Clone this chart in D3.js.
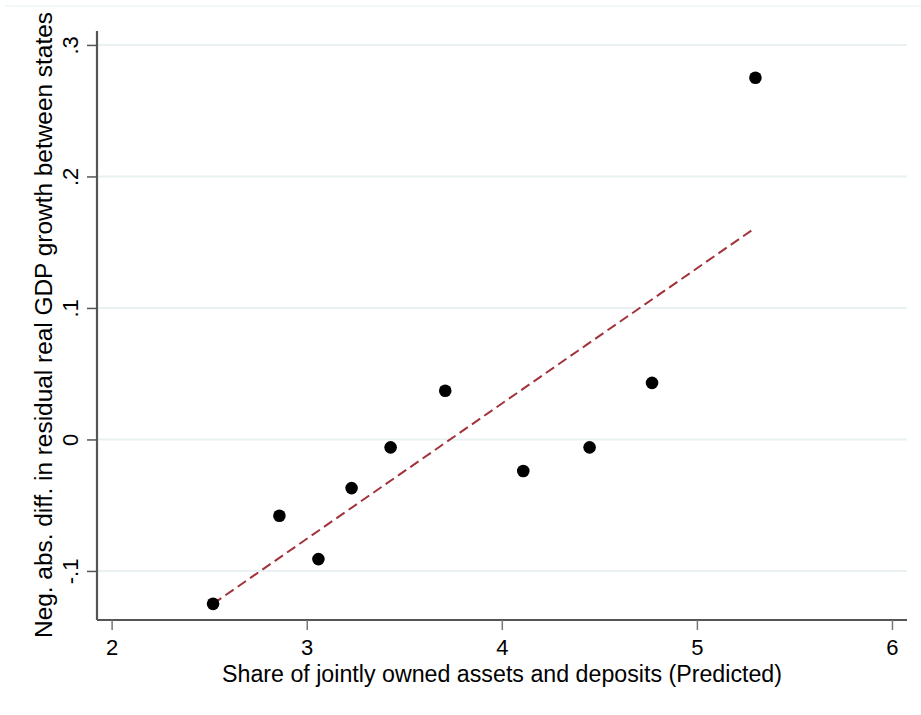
<!DOCTYPE html>
<html>
<head>
<meta charset="utf-8">
<script src="https://cdn.jsdelivr.net/npm/d3@7"></script>
<style>
  body { margin: 0; background: #fff; }
  text { font-family: "Liberation Sans", Arial, sans-serif; fill: #000; }
</style>
</head>
<body>
<div id="chart"></div>
<script>
// Data
var xValues = [2.52, 2.86, 3.06, 3.23, 3.43, 3.71, 4.11, 4.45, 4.77, 5.30];
var yValues = [-0.125, -0.058, -0.091, -0.037, -0.006, 0.037, -0.024, -0.006, 0.043, 0.275];

// fitted line end points
var fitX = [2.52, 5.30];
var fitY = [-0.125, 0.161];

var xTicks = [2, 3, 4, 5, 6];
var yTicks = [-0.1, 0, 0.1, 0.2, 0.3];
var yTickLabels = ["-.1", "0", ".1", ".2", ".3"];

var svgWidth = 921;
var svgHeight = 715;

var margin = { top: 31, right: 14, bottom: 95, left: 97 };
var width = svgWidth - margin.left - margin.right;
var height = svgHeight - margin.top - margin.bottom;

var svg = d3.select("#chart")
    .append("svg")
    .attr("width", svgWidth)
    .attr("height", svgHeight);

// faint outer frame line at the top
svg.append("line")
    .attr("x1", 5).attr("x2", 921)
    .attr("y1", 6).attr("y2", 6)
    .attr("stroke", "#eef4f5")
    .attr("stroke-width", 1.5);

var chartGroup = svg.append("g")
    .attr("transform", `translate(${margin.left}, ${margin.top})`);

var xScale = d3.scaleLinear()
    .domain([1.925, 6.077])
    .range([0, width]);

var yScale = d3.scaleLinear()
    .domain([-0.1373, 0.3106])
    .range([height, 0]);

// gridlines
chartGroup.selectAll(".grid")
    .data(yTicks)
    .enter()
    .append("line")
    .attr("x1", 0)
    .attr("x2", width)
    .attr("y1", d => yScale(d))
    .attr("y2", d => yScale(d))
    .attr("stroke", "#eaf1f2")
    .attr("stroke-width", 2);

// axes
var bottomAxis = d3.axisBottom(xScale)
    .tickValues(xTicks)
    .tickSize(10)
    .tickFormat(d3.format("d"));

var leftAxis = d3.axisLeft(yScale)
    .tickValues(yTicks)
    .tickSize(10)
    .tickFormat((d, i) => yTickLabels[i]);

var xAxis = chartGroup.append("g")
    .attr("transform", `translate(0, ${height})`)
    .call(bottomAxis);

xAxis.select(".domain")
    .attr("d", `M0,0H${width}`)
    .attr("stroke", "#555")
    .attr("stroke-width", 2.2);
xAxis.selectAll(".tick line").attr("stroke", "#777").attr("stroke-width", 1.5);
xAxis.selectAll(".tick text")
    .style("font-size", "22px")
    .attr("y", 35)
    .attr("dy", null);

var yAxis = chartGroup.append("g")
    .call(leftAxis);

yAxis.select(".domain")
    .attr("d", `M0,0V${height}`)
    .attr("stroke", "#555")
    .attr("stroke-width", 2.2);
yAxis.selectAll(".tick line").attr("stroke", "#555").attr("stroke-width", 1.5);
yAxis.selectAll(".tick text")
    .style("font-size", "22px")
    .attr("x", null)
    .attr("dy", null)
    .attr("y", 0)
    .attr("text-anchor", "middle")
    .attr("transform", "translate(-19, 0) rotate(-90)");

// fitted line
chartGroup.append("line")
    .attr("x1", xScale(fitX[0]))
    .attr("y1", yScale(fitY[0]))
    .attr("x2", xScale(fitX[1]))
    .attr("y2", yScale(fitY[1]))
    .attr("stroke", "#a2333b")
    .attr("stroke-width", 2)
    .attr("stroke-dasharray", "10,5");

// points
chartGroup.selectAll("circle")
    .data(xValues)
    .enter()
    .append("circle")
    .attr("cx", d => xScale(d))
    .attr("cy", (d, i) => yScale(yValues[i]))
    .attr("r", 6.3)
    .attr("fill", "#000");

// axis titles
chartGroup.append("text")
    .attr("x", width / 2)
    .attr("y", height + 62)
    .attr("text-anchor", "middle")
    .attr("textLength", 560)
    .attr("lengthAdjust", "spacingAndGlyphs")
    .style("font-size", "23.5px")
    .text("Share of jointly owned assets and deposits (Predicted)");

chartGroup.append("text")
    .attr("transform", "rotate(-90)")
    .attr("x", -(height / 2) + 0.5)
    .attr("y", -45)
    .attr("text-anchor", "middle")
    .attr("textLength", 626)
    .attr("lengthAdjust", "spacingAndGlyphs")
    .style("font-size", "23.5px")
    .text("Neg. abs. diff. in residual real GDP growth between states");
</script>
</body>
</html>
